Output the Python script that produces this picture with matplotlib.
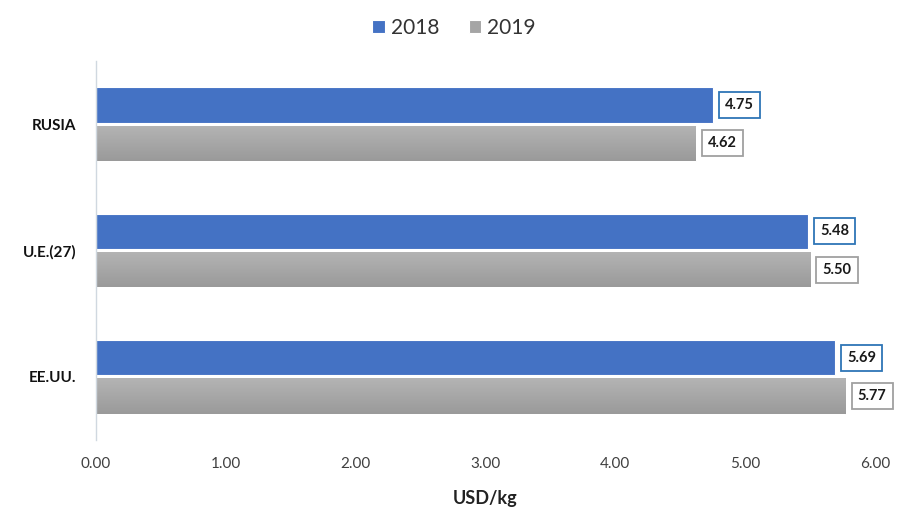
import matplotlib.pyplot as plt
import numpy as np
from matplotlib.colors import LinearSegmentedColormap

plt.rcParams['font.family'] = ['Lato', 'DejaVu Sans']

# Datos: precio medio (USD/kg) por mercado
mercados = ['RUSIA', 'U.E.(27)', 'EE.UU.']
valores_2018 = [4.75, 5.48, 5.69]
valores_2019 = [4.62, 5.50, 5.77]
xticks = [0, 1, 2, 3, 4, 5, 6]

azul = '#4472C4'
gris = '#A5A5A5'

fig = plt.figure(figsize=(9.08, 5.2), dpi=100)
ax = fig.add_axes([0.1057, 0.1538, 0.858, 0.729])

# el primer mercado arriba
y = np.arange(len(mercados))[::-1]
alto = 0.28
desp = 0.152

b1 = ax.barh(y + desp, valores_2018, height=alto, color=azul,
             edgecolor='white', linewidth=0.8, label='2018')
b2 = ax.barh(y - desp, valores_2019, height=alto, color=gris,
             edgecolor='white', linewidth=0.8, label='2019')

# degradado vertical en las barras grises
cmap_gris = LinearSegmentedColormap.from_list('g', ['#B4B4B4', '#9A9A9A'])
grad = np.linspace(0, 1, 64).reshape(-1, 1)
for rect in b2:
    x0, y0 = rect.get_x(), rect.get_y()
    w, h = rect.get_width(), rect.get_height()
    im = ax.imshow(grad, cmap=cmap_gris, aspect='auto', origin='lower',
                   extent=(x0, x0 + w, y0 + h, y0), zorder=rect.get_zorder())
    im.set_clip_path(rect)

# etiquetas de valor con recuadro
for barras, borde in [(b1, '#2E75B6'), (b2, '#A0A0A0')]:
    for rect in barras:
        v = rect.get_width()
        yc = rect.get_y() + rect.get_height() / 2
        ax.annotate(f'{v:.2f}', xy=(v, yc), xytext=(9, 0),
                    textcoords='offset points', ha='left', va='center',
                    fontsize=10.5, fontweight='bold', color='#1A1A1A',
                    bbox=dict(boxstyle='square,pad=0.42', facecolor='white',
                              edgecolor=borde, linewidth=1.3))

ax.set_xlim(0, 6)
ax.set_ylim(-0.5, len(mercados) - 0.5)
ax.set_xticks(xticks)
ax.set_xticklabels([f'{t:.2f}' for t in xticks], fontsize=11, color='#404040')
ax.set_yticks(y)
ax.set_yticklabels(mercados, fontsize=11, fontweight='bold', color='#111111')
ax.tick_params(axis='both', length=0)
ax.tick_params(axis='x', pad=12)
ax.tick_params(axis='y', pad=14)

for s in ['top', 'right', 'bottom']:
    ax.spines[s].set_visible(False)
ax.spines['left'].set_color('#D0D8E0')
ax.spines['left'].set_linewidth(1.0)

ax.set_xlabel('USD/kg', fontsize=13, fontweight='bold', color='#222222',
              labelpad=14)

fig.legend(handles=[b1, b2], labels=['2018', '2019'], loc='center',
           bbox_to_anchor=(0.5, 0.946), ncol=2, frameon=False,
           fontsize=15, handlelength=0.6, handleheight=0.6,
           handletextpad=0.3, columnspacing=1.4, labelcolor='#333333')

plt.savefig('out.png', dpi=100)
